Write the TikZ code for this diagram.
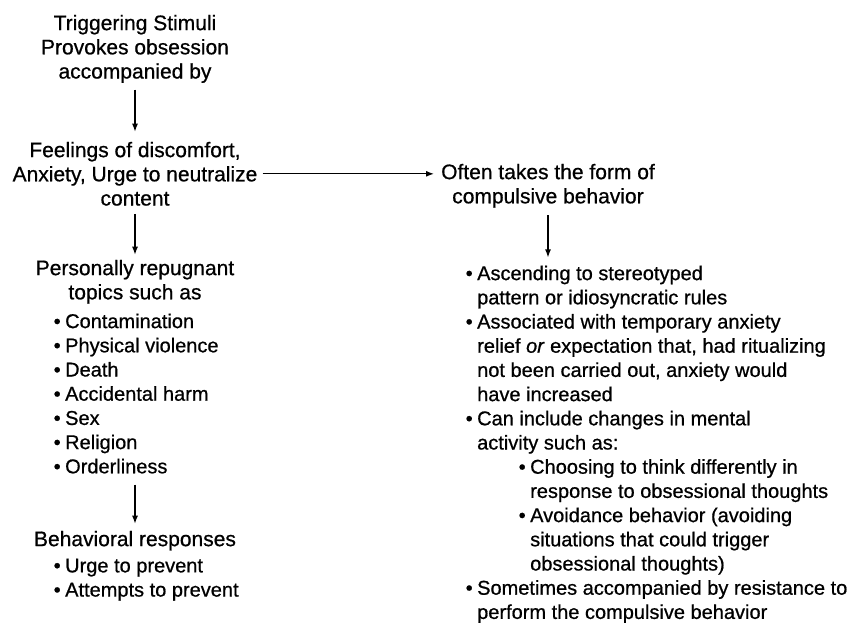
\documentclass[tikz,border=0pt]{standalone}
\usepackage{fontspec}
\setmainfont{Liberation Sans}[FakeBold=0.7]
\usetikzlibrary{arrows.meta}
\tikzstyle{heading}=[align=center, anchor=north, inner sep=0pt, font=\fontsize{21}{24.2}\selectfont]
\tikzstyle{bullets}=[align=left, anchor=north west, inner sep=0pt, font=\fontsize{20}{24.2}\selectfont]
\tikzstyle{flow}=[-{Latex[length=8pt,width=6pt]}, line width=1.2pt]
\newcommand{\bul}{\makebox[11.5pt][l]{•}}
\newcommand{\hang}{\hspace*{11.5pt}}

\begin{document}
\begin{tikzpicture}[x=1pt, y=-1pt]
\useasboundingbox (0, 0) rectangle (849, 622);
\node[heading] at (135, 14.7) (trigger) {Triggering Stimuli\\Provokes obsession\\accompanied by};
\node[heading] at (135, 141.7) (feeling) {Feelings of discomfort,\\Anxiety, Urge to neutralize\\content};
\node[heading] at (135, 259.7) (topics) {Personally repugnant\\topics such as};
\node[bullets] at (53.5, 313.4) (topiclist) {\bul Contamination\\\bul Physical violence\\\bul Death\\\bul Accidental harm\\\bul Sex\\\bul Religion\\\bul Orderliness};
\node[heading] at (135, 530.7) (response) {Behavioral responses};
\node[bullets] at (53.5, 558.4) (responselist) {\bul Urge to prevent\\\bul Attempts to prevent};
\node[heading] at (548, 163.7) (compulsion) {Often takes the form of\\compulsive behavior};
\node[bullets] at (465.5, 265.4) (compulsionlist) {\bul Ascending to stereotyped\\
\hang pattern or idiosyncratic rules\\
\bul Associated with temporary anxiety\\
\hang relief \textit{or} expectation that, had ritualizing\\
\hang not been carried out, anxiety would\\
\hang have increased\\
\bul Can include changes in mental\\
\hang activity such as:\\
\hspace*{53pt}\bul Choosing to think differently in\\
\hspace*{53pt}\hang response to obsessional thoughts\\
\hspace*{53pt}\bul Avoidance behavior (avoiding\\
\hspace*{53pt}\hang situations that could trigger\\
\hspace*{53pt}\hang obsessional thoughts)\\
\bul Sometimes accompanied by resistance to\\
\hang perform the compulsive behavior};
\draw[flow, shorten <=6.5pt, shorten >=10pt] (trigger) -- (feeling);
\draw[flow, shorten <=8pt, shorten >=5pt] (feeling) -- (topics);
\draw[flow, shorten <=11pt, shorten >=7pt] (response |- topiclist.south) -- (response);
\draw[flow, shorten <=5pt, shorten >=7pt] (feeling.east) -- (feeling.east -| compulsion.west);
\draw[flow, shorten <=7.5pt, shorten >=8pt] (compulsion) -- (compulsion |- compulsionlist.north);
\end{tikzpicture}
\end{document}
